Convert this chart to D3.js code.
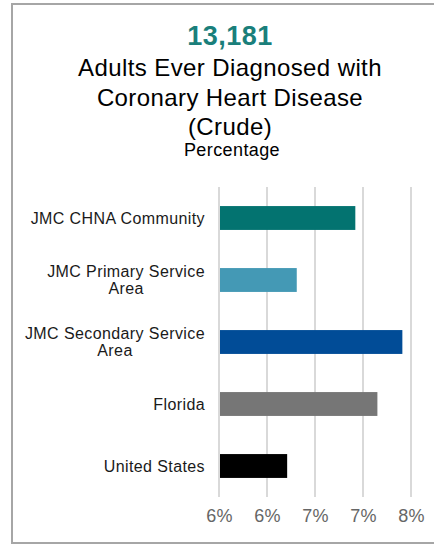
<!DOCTYPE html>
<html>
<head>
<meta charset="utf-8">
<script src="https://cdn.jsdelivr.net/npm/d3@7"></script>
<style>
  html, body { margin: 0; padding: 0; background: #fff; }
  svg { display: block; font-family: Arial, "Liberation Sans", sans-serif; }
</style>
</head>
<body>
<svg id="chart" width="434" height="544"></svg>
<script>
const categories = ["JMC CHNA Community", "JMC Primary Service Area", "JMC Secondary Service Area", "Florida", "United States"];
const categoryLines = [["JMC CHNA Community"], ["JMC Primary Service", "Area"], ["JMC Secondary Service", "Area"], ["Florida"], ["United States"]];
const values = [7.22, 6.61, 7.71, 7.45, 6.51];
const barColors = ["#037370", "#4499B5", "#014C97", "#767676", "#000000"];
const tickValues = [5.8, 6.3, 6.8, 7.3, 7.8];
const tickLabels = ["6%", "6%", "7%", "7%", "8%"];
const headline = "13,181";
const titleLines = ["Adults Ever Diagnosed with", "Coronary Heart Disease", "(Crude)"];
const subtitle = "Percentage";

const svg = d3.select("#chart");

// frame (left, top, bottom)
svg.append("path")
  .attr("d", "M434,4 H12 V543 H434")
  .attr("fill", "none")
  .attr("stroke", "#A6A6A6")
  .attr("stroke-width", 2);

const cx = 230;
svg.append("text")
  .attr("x", cx).attr("y", 45)
  .attr("text-anchor", "middle")
  .attr("font-size", 27).attr("font-weight", "bold")
  .attr("letter-spacing", 0.5)
  .attr("fill", "#1A7F7B")
  .text(headline);

const titleBaselines = [76, 106, 135];
titleLines.forEach((t, i) => {
  svg.append("text")
    .attr("x", cx).attr("y", titleBaselines[i])
    .attr("text-anchor", "middle")
    .attr("font-size", 24)
    .attr("letter-spacing", 0.4)
    .attr("fill", "#000")
    .text(t);
});
svg.append("text")
  .attr("x", 232).attr("y", 156)
  .attr("text-anchor", "middle")
  .attr("font-size", 18)
  .attr("letter-spacing", 0.4)
  .attr("fill", "#000")
  .text(subtitle);

const x = d3.scaleLinear().domain([5.8, 7.8]).range([219, 411]);
const y = d3.scaleBand().domain(categories).range([187, 497])
  .paddingInner(0.615).paddingOuter(0.3075);

// gridlines
svg.append("g").selectAll("line").data(tickValues).join("line")
  .attr("x1", d => x(d)).attr("x2", d => x(d))
  .attr("y1", 187).attr("y2", 497)
  .attr("stroke", "#D9D9D9").attr("stroke-width", 2);

// x axis labels
const xAxis = d3.axisBottom(x).tickValues(tickValues)
  .tickFormat((d, i) => tickLabels[i]).tickSize(0).tickPadding(0);
const gx = svg.append("g").attr("transform", "translate(0,509)").call(xAxis);
gx.select(".domain").remove();
gx.selectAll("text")
  .attr("font-size", 18).attr("fill", "#666666")
  .attr("letter-spacing", 0.3)
  .attr("font-family", "Arial, 'Liberation Sans', sans-serif")
  .attr("dy", "0.71em");

// bars
svg.append("g").selectAll("rect").data(categories).join("rect")
  .attr("x", x(5.8) + 1)
  .attr("y", d => y(d))
  .attr("width", (d, i) => x(values[i]) - x(5.8) - 1)
  .attr("height", y.bandwidth())
  .attr("fill", (d, i) => barColors[i]);

// category labels
const labelRight = 205;
const lineH = 17.6;
categories.forEach((c, i) => {
  const lines = categoryLines[i];
  const g = svg.append("g");
  const cy = y(c) + y.bandwidth() / 2;
  const texts = lines.map((ln, j) => g.append("text")
    .attr("y", cy + (j - (lines.length - 1) / 2) * lineH)
    .attr("dy", "0.35em")
    .attr("font-size", 16)
    .attr("letter-spacing", 0.4)
    .attr("fill", "#1a1a1a")
    .text(ln));
  const w = d3.max(texts, t => t.node().getComputedTextLength());
  texts.forEach(t => t.attr("x", labelRight - w / 2).attr("text-anchor", "middle"));
});
</script>
</body>
</html>
